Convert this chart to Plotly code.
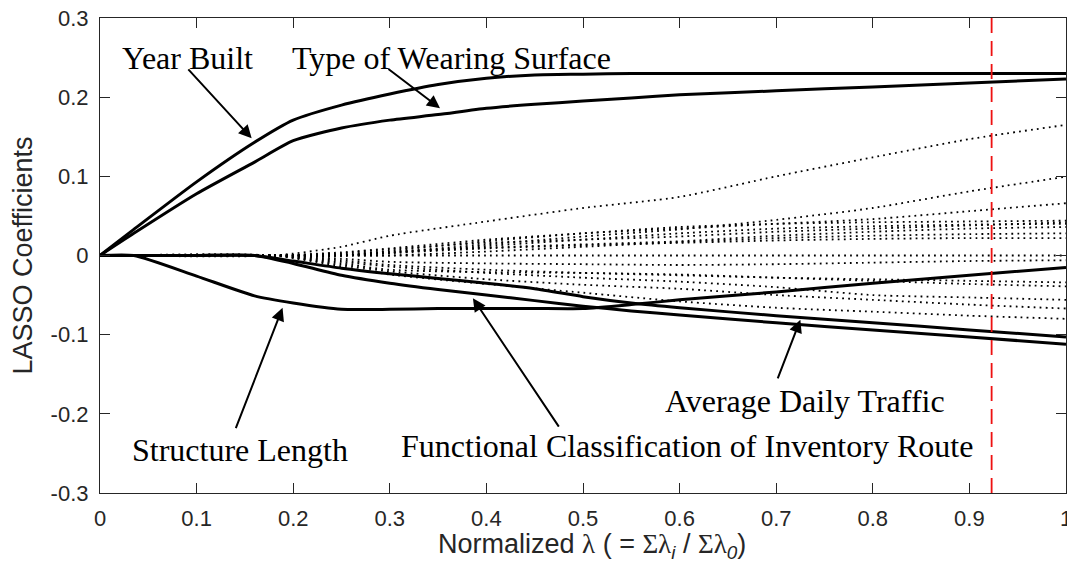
import plotly.graph_objects as go

# ---------------- data ----------------
X_SOLID = [0, 0.035, 0.1, 0.16, 0.2, 0.25, 0.3, 0.35, 0.4, 0.45, 0.5, 0.55, 0.6, 0.7, 0.8, 0.9, 1.0]

year_built = [0, 0.033, 0.093, 0.143, 0.171, 0.19, 0.204, 0.216, 0.224, 0.228, 0.229, 0.23, 0.23, 0.23, 0.23, 0.23, 0.23]
wearing_surface = [0, 0.028, 0.078, 0.118, 0.145, 0.161, 0.171, 0.178, 0.186, 0.191, 0.195, 0.199, 0.203, 0.208, 0.213, 0.218, 0.223]
structure_length = [0, 0, -0.026, -0.051, -0.06, -0.068, -0.068, -0.067, -0.067, -0.067, -0.067, -0.062, -0.056, -0.046, -0.035, -0.025, -0.015]
avg_daily_traffic = [0, 0, 0, 0, -0.007, -0.016, -0.023, -0.029, -0.035, -0.042, -0.052, -0.06, -0.066, -0.076, -0.085, -0.094, -0.103]
functional_class = [0, 0, 0, 0, -0.01, -0.025, -0.035, -0.043, -0.05, -0.057, -0.064, -0.07, -0.075, -0.085, -0.094, -0.103, -0.112]

X_DOTTED = [0, 0.18, 0.25, 0.3, 0.4, 0.5, 0.6, 0.7, 0.8, 0.9, 1.0]
dotted_1 = [0, 0, 0.011, 0.025, 0.043, 0.06, 0.074, 0.1, 0.124, 0.147, 0.165]
dotted_2 = [0, 0, 0, 0.004, 0.014, 0.024, 0.033, 0.045, 0.06, 0.081, 0.0995]
dotted_3 = [0, 0, 0, 0.006, 0.018, 0.028, 0.034, 0.04, 0.046, 0.056, 0.066]
dotted_4 = [0, 0, 0.004, 0.009, 0.02, 0.028, 0.036, 0.04, 0.042, 0.043, 0.044]
dotted_5 = [0, 0, 0, 0.003, 0.012, 0.02, 0.028, 0.034, 0.037, 0.039, 0.040]
dotted_6 = [0, 0, 0.002, 0.005, 0.01, 0.014, 0.018, 0.025, 0.03, 0.034, 0.036]
dotted_7 = [0, 0, 0, 0.003, 0.009, 0.013, 0.016, 0.019, 0.021, 0.022, 0.022]
dotted_8 = [0, 0, 0, 0, 0.005, 0.011, 0.017, 0.022, 0.025, 0.027, 0.028]
dotted_9 = [0, 0, 0, 0, 0, 0, 0, 0, 0, 0, 0]
dotted_10 = [0, 0, -0.004, -0.008, -0.01, -0.011, -0.012, -0.011, -0.009, -0.007, -0.006]
dotted_11 = [0, 0, -0.01, -0.018, -0.021, -0.022, -0.024, -0.028, -0.032, -0.036, -0.039]
dotted_12 = [0, 0, -0.008, -0.014, -0.022, -0.028, -0.033, -0.04, -0.05, -0.053, -0.056]
dotted_13 = [0, 0, -0.012, -0.02, -0.03, -0.037, -0.042, -0.05, -0.056, -0.062, -0.067]
dotted_14 = [0, 0, -0.014, -0.024, -0.036, -0.047, -0.058, -0.066, -0.071, -0.076, -0.08]
dotted_15 = [0, 0, -0.006, -0.012, -0.018, -0.022, -0.025, -0.028, -0.03, -0.032, -0.034]
dotted_16 = [0, 0, 0.003, 0.008, 0.016, 0.02, 0.024, 0.03, 0.034, 0.038, 0.042]
DOTTED = [dotted_1, dotted_2, dotted_3, dotted_4, dotted_5, dotted_6, dotted_7, dotted_8,
          dotted_9, dotted_10, dotted_11, dotted_12, dotted_13, dotted_14, dotted_15, dotted_16]

SOLID = [year_built, wearing_surface, structure_length, avg_daily_traffic, functional_class]

X_TICKS = [0, 0.1, 0.2, 0.3, 0.4, 0.5, 0.6, 0.7, 0.8, 0.9, 1.0]
X_TICKTEXT = ["0", "0.1", "0.2", "0.3", "0.4", "0.5", "0.6", "0.7", "0.8", "0.9", "1"]
Y_TICKS = [-0.3, -0.2, -0.1, 0, 0.1, 0.2, 0.3]
Y_TICKTEXT = ["-0.3", "-0.2", "-0.1", "0", "0.1", "0.2", "0.3"]

SELECTED_LAMBDA = 0.923

# labels: (text, text_x, text_y, arrow_head_x, arrow_head_y, arrow_tail_x, arrow_tail_y)
LABELS = [
    ("Year Built", 0.091, 0.250, 0.157, 0.148, 0.090, 0.237),
    ("Type of Wearing Surface", 0.364, 0.250, 0.352, 0.186, 0.297, 0.237),
    ("Structure Length", 0.145, -0.246, 0.189, -0.066, 0.140, -0.220),
    ("Functional Classification of Inventory Route", 0.608, -0.241, 0.386, -0.054, 0.476, -0.218),
    ("Average Daily Traffic", 0.730, -0.184, 0.725, -0.081, 0.701, -0.157),
]

AX_COLOR = "#262626"
SERIF = "Liberation Serif"
SANS = "Liberation Sans"

fig = go.Figure()

for ys in DOTTED:
    fig.add_trace(go.Scatter(x=X_DOTTED, y=ys, mode="lines",
                             line=dict(color="black", width=1.8, dash="1.8px,4.2px",
                                       shape="spline", smoothing=0.6),
                             showlegend=False, hoverinfo="skip"))

for ys in SOLID:
    fig.add_trace(go.Scatter(x=X_SOLID, y=ys, mode="lines",
                             line=dict(color="black", width=3, shape="spline", smoothing=0.6),
                             showlegend=False, hoverinfo="skip"))

fig.add_shape(type="line", xref="x", yref="paper", x0=SELECTED_LAMBDA, x1=SELECTED_LAMBDA,
              y0=0, y1=1, line=dict(color="#ee1111", width=1.8, dash="15px,8px"))

annotations = []
for text, tx, ty, hx, hy, ax_, ay_ in LABELS:
    annotations.append(dict(x=tx, y=ty, xref="x", yref="y", text=text, showarrow=False,
                            xanchor="center", yanchor="middle",
                            font=dict(family=SERIF, size=32, color="black")))
    annotations.append(dict(x=hx, y=hy, xref="x", yref="y", ax=ax_, ay=ay_, axref="x", ayref="y",
                            text="", showarrow=True, arrowhead=2, arrowsize=1.3, arrowwidth=2,
                            arrowcolor="black", standoff=0, startstandoff=0))

annotations.append(dict(x=-0.0807, y=0.5, xref="paper", yref="paper", text="LASSO Coefficients",
                        textangle=-90, showarrow=False, xanchor="center", yanchor="middle",
                        font=dict(family=SANS, size=27, color=AX_COLOR)))
annotations.append(dict(x=0.509, y=-0.112, xref="paper", yref="paper",
                        text="Normalized <span style=\"font-family:'Liberation Serif'\">λ</span> ( = "
                             "<span style=\"font-family:'Liberation Serif'\">Σλ</span><sub><i>i</i></sub> / "
                             "<span style=\"font-family:'Liberation Serif'\">Σλ</span><sub><i>0</i></sub>)",
                        showarrow=False, xanchor="center", yanchor="middle",
                        font=dict(family=SANS, size=27, color=AX_COLOR)))

axis_common = dict(ticks="inside", ticklen=10, tickwidth=1.2, tickcolor=AX_COLOR,
                   showline=True, linecolor=AX_COLOR, linewidth=1.2, mirror="ticks",
                   showgrid=False, zeroline=False, automargin=False,
                   ticklabeloverflow="allow",
                   tickfont=dict(family=SANS, size=22, color=AX_COLOR))

fig.update_layout(
    width=1067, height=571,
    margin=dict(l=100, r=1, t=18, b=78, autoexpand=False),
    paper_bgcolor="white", plot_bgcolor="white",
    showlegend=False,
    annotations=annotations,
    xaxis=dict(range=[0, 1], tickvals=X_TICKS, ticktext=X_TICKTEXT, ticklabelstandoff=5,
               **axis_common),
    yaxis=dict(range=[-0.3, 0.3], tickvals=Y_TICKS, ticktext=Y_TICKTEXT, ticklabelstandoff=6,
               **axis_common),
)

fig.write_html("out.html", config={"displayModeBar": False},
               post_script="document.body.style.margin='0';document.body.style.overflow='hidden';")
